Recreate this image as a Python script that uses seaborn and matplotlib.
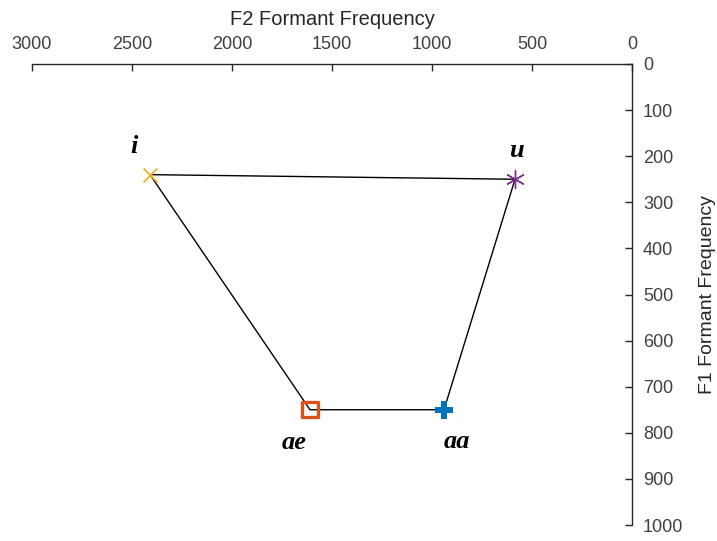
import matplotlib
matplotlib.use("Agg")
import matplotlib.pyplot as plt
import seaborn as sns
import pandas as pd

# Vowel formant data (Hz)
vowels = ["i", "u", "aa", "ae"]
f2 = [2410, 585, 940, 1610]
f1 = [240, 250, 750, 750]
colors = ["#EDB120", "#7E2F8E", "#0072BD", "#D95319"]
markers = ["x", "*", "P", "s"]

# Label offsets (Hz) relative to each vowel point
label_dx = [80, -5, -65, 80]
label_dy = [-62, -62, 68, 72]

sns.set_theme(style="white")
plt.rcParams["font.family"] = ["Liberation Sans", "DejaVu Sans"]

fig = plt.figure(figsize=(7.17, 5.41), dpi=100)
ax = fig.add_axes([32 / 717, 1 - 525 / 541, 600 / 717, 461 / 541])

# Closed vowel quadrilateral
poly = pd.DataFrame({"F2": f2 + [f2[0]], "F1": f1 + [f1[0]],
                     "order": list(range(len(f2) + 1))})
sns.lineplot(data=poly, x="F2", y="F1", sort=False, estimator=None,
             color="black", linewidth=1.0, ax=ax, zorder=2)

# Vowel markers
for v, x, y, c, m in zip(vowels, f2, f1, colors, markers):
    if m == "s":
        sns.scatterplot(x=[x], y=[y], marker="s", s=120, facecolor="none",
                        edgecolor=c, linewidth=2.4, ax=ax, zorder=3)
    elif m == "P":
        sns.scatterplot(x=[x], y=[y], marker="P", s=150, color=c,
                        edgecolor=c, linewidth=0, ax=ax, zorder=3)
    elif m == "x":
        sns.scatterplot(x=[x], y=[y], marker="x", s=100, color=c,
                        linewidth=1.3, ax=ax, zorder=3)
    else:
        sns.scatterplot(x=[x], y=[y], marker=(6, 2, 0), s=170, color=c,
                        linewidth=1.0, ax=ax, zorder=3)

for v, x, y, dx, dy in zip(vowels, f2, f1, label_dx, label_dy):
    ax.text(x + dx, y + dy, v, ha="center", va="center", fontsize=19,
            fontstyle="italic", fontweight="bold",
            family=["Liberation Serif", "DejaVu Serif"], color="black")

ax.set_xlim(3000, 0)
ax.set_ylim(1000, 0)
ax.set_xticks([3000, 2500, 2000, 1500, 1000, 500, 0])
ax.set_yticks(range(0, 1001, 100))

ax.xaxis.tick_top()
ax.xaxis.set_label_position("top")
ax.yaxis.tick_right()
ax.yaxis.set_label_position("right")

for side in ["bottom", "left"]:
    ax.spines[side].set_visible(False)
for side in ["top", "right"]:
    ax.spines[side].set_visible(True)
    ax.spines[side].set_color("#262626")
    ax.spines[side].set_linewidth(1.0)

ax.tick_params(axis="both", direction="in", length=5, width=1.0,
               colors="#262626", labelsize=13, labelcolor="#404040",
               top=True, right=True, bottom=False, left=False, pad=8)
ax.set_xlabel("F2 Formant Frequency", fontsize=14.5, color="#262626", labelpad=8)
ax.set_ylabel("F1 Formant Frequency", fontsize=14, color="#262626",
              labelpad=11, rotation=90)
ax.grid(False)
ax.set_facecolor("white")

fig.savefig("out.png", dpi=100, facecolor="white")
